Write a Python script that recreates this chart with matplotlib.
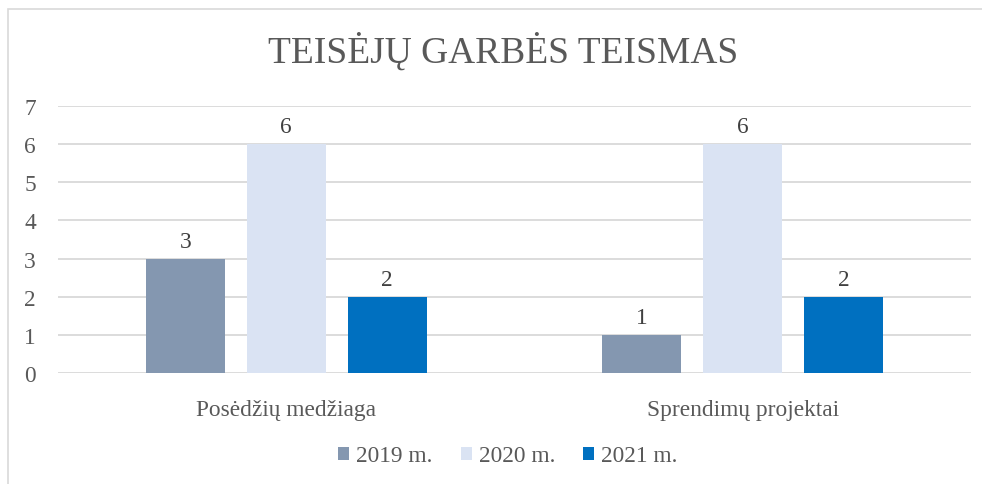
import matplotlib
matplotlib.use("Agg")
import numpy as np
import matplotlib.pyplot as plt
from matplotlib.patches import Rectangle

plt.rcParams['font.family'] = ['Liberation Serif', 'DejaVu Serif']

categories = ["Posėdžių medžiaga", "Sprendimų projektai"]
series_names = ["2019 m.", "2020 m.", "2021 m."]
values_2019 = [3, 1]
values_2020 = [6, 6]
values_2021 = [2, 2]
colors = ["#8497B0", "#DAE3F3", "#0070C0"]
yticks = [0, 1, 2, 3, 4, 5, 6, 7]

W, H = 982, 485
fs = 16.8
fig = plt.figure(figsize=(W / 100, H / 100), dpi=100)

# chart frame (left and top edges visible, rest runs off the image)
fig.add_artist(Rectangle((8 / W, -0.1), 1.2, 1 - 10 / H + 0.1,
                         transform=fig.transFigure, fill=False,
                         edgecolor="#D9D9D9", linewidth=1.2))

ax = fig.add_axes([58 / W, 1 - 374 / H, 913 / W, 267 / H])

x = np.arange(len(categories))
width = 0.173
step = 0.221
series = [values_2019, values_2020, values_2021]
for i, (name, vals, col) in enumerate(zip(series_names, series, colors)):
    bars = ax.bar(x + (i - 1) * step, vals, width, color=col, label=name, zorder=3)
    ax.bar_label(bars, padding=5, fontsize=fs, color="#404040")

ax.set_xlim(-0.5, 1.5)
ax.set_ylim(0, 7)
ax.set_yticks(yticks)
ax.set_xticks(x)
ax.set_xticklabels(categories)
ax.tick_params(axis="y", length=0, pad=16, labelsize=fs, labelcolor="#595959")
ax.tick_params(axis="x", length=0, pad=19, labelsize=fs, labelcolor="#595959")
ax.grid(axis="y", color="#D9D9D9", linewidth=1.3, zorder=0)
for s in ["top", "right", "left", "bottom"]:
    ax.spines[s].set_visible(False)

fig.text(503 / W, 1 - 52 / H, "TEISĖJŲ GARBĖS TEISMAS", ha="center", va="center",
         fontsize=27, color="#595959")

leg = fig.legend(loc="center", bbox_to_anchor=(508 / W, 1 - 457 / H), ncol=3,
                 frameon=False, fontsize=fs, handlelength=0.48, handleheight=0.48,
                 handletextpad=0.3, columnspacing=1.2)
for t in leg.get_texts():
    t.set_color("#595959")

fig.savefig("out.png", dpi=100)
